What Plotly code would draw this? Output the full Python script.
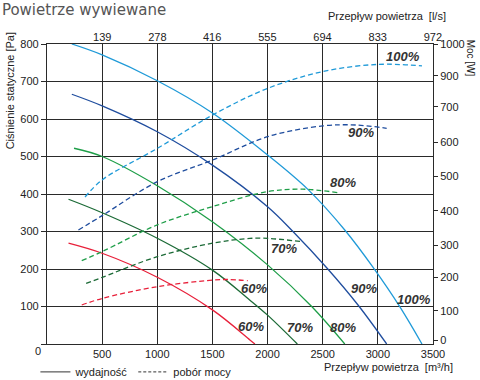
import plotly.graph_objects as go

# ---------------- data ----------------
flow_ticks = [0, 500, 1000, 1500, 2000, 2500, 3000, 3500]
flow_tick_labels = ["", "500", "1000", "1500", "2000", "2500", "3000", "3500"]
ls_ticks = [139, 278, 416, 555, 694, 833, 972]
ls_tick_labels = ["139", "278", "416", "555", "694", "833", "972"]
pressure_ticks = [0, 100, 200, 300, 400, 500, 600, 700, 800]
pressure_tick_labels = ["", "100", "200", "300", "400", "500", "600", "700", "800"]
power_tick_pos = [12, 111, 222, 330, 444, 558, 672, 791, 894, 1000]
power_tick_labels = ["0", "100", "200", "300", "400", "500", "600", "700", "900", "1000"]

speeds = ["100%", "90%", "80%", "70%", "60%"]
colors = ["#1f9ad8", "#1f4d9e", "#1e9e48", "#1b6a36", "#e8203a"]

# pressure curves (Pa) vs airflow (m3/h)
flow_p_100 = [225, 500, 1000, 1500, 2000, 2370, 2700, 2960, 3200, 3400]
pres_100 = [800, 771, 702, 616, 504, 411, 304, 203, 99, 0]
flow_p_90 = [225, 500, 1000, 1500, 2000, 2230, 2540, 2820, 3080]
pres_90 = [666, 635, 566, 477, 366, 300, 202, 104, 0]
flow_p_80 = [245, 500, 1000, 1500, 2000, 2400, 2700]
pres_80 = [522, 500, 422, 326, 211, 100, 0]
flow_p_70 = [195, 500, 1000, 1500, 1840, 2000, 2270]
pres_70 = [386, 350, 282, 197, 117, 77, 0]
flow_p_60 = [195, 500, 1000, 1500, 1840, 1885]
pres_60 = [269, 242, 178, 91, 11, 0]

# power curves (W) vs airflow (m3/h)
flow_w_100 = [345, 500, 1000, 1500, 2000, 2500, 3000, 3400]
power_100 = [490, 547, 652, 763, 852, 908, 932, 927]
flow_w_90 = [285, 500, 1000, 1500, 2000, 2500, 2800, 3080]
power_90 = [380, 428, 541, 613, 691, 727, 730, 719]
flow_w_80 = [315, 500, 1000, 1500, 2000, 2320, 2650]
power_80 = [278, 308, 397, 458, 508, 516, 504]
flow_w_70 = [355, 500, 1000, 1500, 1840, 2000, 2320]
power_70 = [202, 222, 291, 336, 352, 352, 341]
flow_w_60 = [315, 500, 1000, 1500, 1650, 1820]
power_60 = [130, 152, 191, 213, 215, 211]

pressure_series = [(flow_p_100, pres_100), (flow_p_90, pres_90), (flow_p_80, pres_80),
                   (flow_p_70, pres_70), (flow_p_60, pres_60)]
power_series = [(flow_w_100, power_100), (flow_w_90, power_90), (flow_w_80, power_80),
                (flow_w_70, power_70), (flow_w_60, power_60)]

# label positions (flow, Pa) for curve labels
pressure_label_pos = [(3330, 120), (2870, 148), (2680, 43), (2290, 45), (1850, 48)]
power_label_pos = [(3230, 768), (2850, 563), (2680, 430), (2150, 254), (1880, 149)]

FONT = "Liberation Sans, Arial, sans-serif"
GRID = "#2a2a2a"

fig = go.Figure()

for (fx, py), c, s in zip(pressure_series, colors, speeds):
    fig.add_trace(go.Scatter(x=fx, y=py, mode="lines", line=dict(color=c, width=1.3, shape="spline"),
                             showlegend=False, xaxis="x", yaxis="y", name=s))
for (fx, pw), c, s in zip(power_series, colors, speeds):
    fig.add_trace(go.Scatter(x=fx, y=pw, mode="lines",
                             line=dict(color=c, width=1.3, dash="5px,3px", shape="spline"),
                             showlegend=False, xaxis="x", yaxis="y2", name=s))

# legend entries
fig.add_trace(go.Scatter(x=[None], y=[None], mode="lines", line=dict(color="#333", width=1),
                         name="wydajność", showlegend=True))
fig.add_trace(go.Scatter(x=[None], y=[None], mode="lines", line=dict(color="#333", width=1, dash="3px,2px"),
                         name="pobór mocy", showlegend=True))

ann = []
lab_font = dict(family=FONT, size=13, color="#333", weight="bold", style="italic")
for (x, y), s in zip(pressure_label_pos, speeds):
    ann.append(dict(x=x, y=y, xref="x", yref="y", text=s, showarrow=False, font=lab_font))
for (x, y), s in zip(power_label_pos, speeds):
    ann.append(dict(x=x, y=y, xref="x", yref="y", text=s, showarrow=False, font=lab_font))

txt = dict(family=FONT, size=11, color="#222")
ann += [
    dict(text="Ciśnienie statyczne [Pa]", textangle=-90, xref="paper", yref="paper",
         x=-0.096, y=1.047, xanchor="center", yanchor="top", showarrow=False, font=txt),
    dict(text="Moc [W]", textangle=90, xref="paper", yref="paper",
         x=1.098, y=1.02, xanchor="center", yanchor="top", showarrow=False,
         font=dict(family=FONT, size=10, color="#222")),
    dict(text="Przepływ powietrza  [l/s]", xref="paper", yref="paper",
         x=1.039, y=1.093, xanchor="right", yanchor="middle", showarrow=False, font=txt),
    dict(text="Przepływ powietrza  [m³/h]", xref="paper", yref="paper",
         x=1.057, y=-0.077, xanchor="right", yanchor="middle", showarrow=False, font=txt),
    dict(text="0", xref="paper", yref="paper", x=-0.023, y=-0.023,
         xanchor="center", yanchor="middle", showarrow=False, font=txt),
]

fig.update_layout(
    width=480, height=380,
    margin=dict(l=47, r=47, t=44, b=36, autoexpand=False),
    paper_bgcolor="white", plot_bgcolor="white",
    font=dict(family=FONT, size=11, color="#222"),
    title=dict(text="Powietrze wywiewane", xref="container", yref="container",
               x=0.004, xanchor="left", y=0.974, yanchor="middle",
               font=dict(family="DejaVu Sans, sans-serif", size=15, color="#555")),
    xaxis=dict(range=[0, 3500], tickvals=flow_ticks, ticktext=flow_tick_labels,
               showgrid=True, gridcolor=GRID, gridwidth=1.2, zeroline=False,
               showline=True, linecolor=GRID, linewidth=1.2, mirror=True, ticks="",
               automargin=False),
    xaxis2=dict(range=[0, 3500 / 3.6], overlaying="x", side="top", anchor="y",
                tickvals=ls_ticks, ticktext=ls_tick_labels, showgrid=False, zeroline=False,
                showline=False, ticks="", automargin=False),
    yaxis=dict(range=[0, 800], tickvals=pressure_ticks, ticktext=pressure_tick_labels,
               showgrid=True, gridcolor=GRID, gridwidth=1.2, zeroline=False,
               showline=True, linecolor=GRID, linewidth=1.2, mirror=True,
               ticks="outside", ticklen=5, tickcolor=GRID, automargin=False),
    yaxis2=dict(range=[0, 1000], overlaying="y", side="right", anchor="x",
                tickvals=power_tick_pos, ticktext=power_tick_labels, showgrid=False,
                zeroline=False, showline=False, ticks="outside", ticklen=4, tickcolor=GRID,
                automargin=False),
    legend=dict(orientation="h", x=-0.03, xanchor="left", y=-0.093, yanchor="middle",
                itemwidth=30, font=dict(family=FONT, size=11, color="#222"),
                bgcolor="rgba(0,0,0,0)", tracegroupgap=0),
    annotations=ann,
    showlegend=True,
)

# dummy trace to activate top axis
fig.add_trace(go.Scatter(x=[None], y=[None], xaxis="x2", yaxis="y", showlegend=False))

fig.write_html("out.html", config={"displayModeBar": False},
               post_script="document.body.style.margin='0';document.body.style.overflow='hidden';")
